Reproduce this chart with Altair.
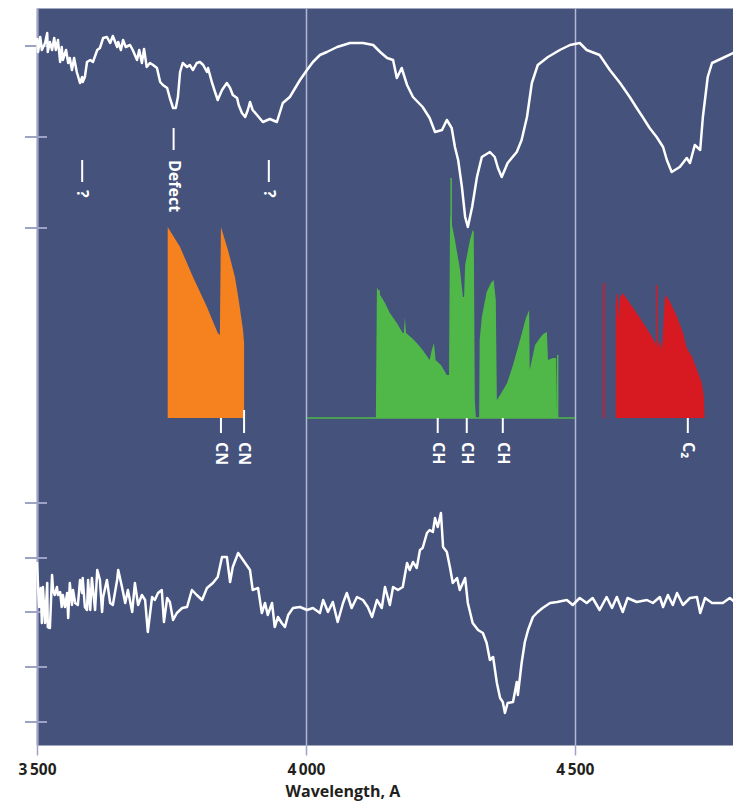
import altair as alt
import pandas as pd

# ---------------- data ----------------
# upper spectrum (wavelength in A, relative flux in arbitrary units)
top_wl = [3500, 3502, 3506, 3509, 3515, 3519, 3520, 3524, 3528, 3532, 3535, 3539, 3543, 3546, 3548,
          3554, 3558, 3561, 3565, 3569, 3574, 3580, 3584, 3585, 3589, 3593, 3599, 3604, 3612, 3617,
          3623, 3630, 3636, 3641, 3649, 3651, 3656, 3660, 3665, 3673, 3678, 3686, 3690, 3695, 3699,
          3704, 3710, 3716, 3723, 3729, 3734, 3742, 3747, 3753, 3758, 3762, 3766, 3771, 3779, 3784,
          3790, 3797, 3803, 3809, 3816, 3818, 3825, 3831, 3836, 3844, 3853, 3859, 3864, 3872, 3875,
          3881, 3887, 3892, 3896, 3901, 3909, 3920, 3933, 3946, 3957, 3970, 3989, 4002, 4013, 4026,
          4039, 4058, 4082, 4106, 4125, 4138, 4151, 4162, 4169, 4178, 4188, 4199, 4217, 4230, 4240,
          4253, 4262, 4271, 4277, 4283, 4290, 4296, 4301, 4309, 4318, 4327, 4342, 4351, 4357, 4364,
          4375, 4392, 4401, 4411, 4420, 4431, 4450, 4472, 4491, 4509, 4522, 4546, 4565, 4584, 4602,
          4615, 4626, 4639, 4652, 4664, 4671, 4680, 4695, 4708, 4714, 4723, 4733, 4738, 4747, 4755,
          4775, 4794, 4809]
top_flux = [707, 693, 708, 695, 702, 712, 693, 703, 695, 707, 695, 705, 683, 698, 685,
            695, 682, 687, 675, 687, 673, 662, 668, 663, 668, 683, 685, 683, 695, 697,
            707, 708, 702, 709, 698, 703, 695, 705, 698, 700, 695, 685, 695, 682, 696,
            678, 682, 680, 677, 663, 660, 657, 647, 637, 637, 648, 673, 682, 678, 680,
            675, 682, 683, 680, 673, 677, 663, 653, 645, 655, 662, 657, 650, 647, 640,
            632, 628, 635, 643, 635, 630, 623, 626, 623, 642, 648, 665, 675, 683, 690,
            693, 698, 702, 702, 700, 693, 687, 685, 667, 677, 660, 648, 638, 627, 613,
            615, 625, 617, 598, 585, 558, 528, 518, 538, 568, 588, 593, 588, 577, 568,
            582, 593, 605, 628, 662, 680, 688, 695, 700, 702, 695, 690, 675, 662, 648,
            637, 628, 617, 608, 598, 585, 573, 578, 587, 582, 600, 595, 628, 668, 682,
            687, 692, 695]

# lower spectrum
bot_wl = [3500, 3502, 3504, 3507, 3509, 3511, 3515, 3519, 3520, 3524, 3528, 3530, 3533, 3537, 3539,
          3543, 3546, 3548, 3552, 3556, 3558, 3561, 3565, 3567, 3571, 3576, 3580, 3584, 3585, 3589,
          3593, 3595, 3599, 3602, 3608, 3612, 3617, 3621, 3623, 3630, 3636, 3641, 3649, 3651, 3658,
          3664, 3669, 3677, 3682, 3688, 3695, 3701, 3706, 3714, 3719, 3725, 3732, 3736, 3742, 3747,
          3753, 3760, 3770, 3779, 3788, 3797, 3807, 3816, 3827, 3836, 3844, 3853, 3859, 3864, 3874,
          3887, 3896, 3901, 3911, 3918, 3924, 3929, 3937, 3942, 3948, 3955, 3961, 3967, 3976, 3989,
          4002, 4013, 4026, 4032, 4041, 4050, 4059, 4069, 4076, 4085, 4095, 4106, 4115, 4123, 4132,
          4141, 4147, 4156, 4162, 4171, 4180, 4188, 4193, 4199, 4206, 4212, 4217, 4225, 4230, 4236,
          4240, 4245, 4251, 4255, 4262, 4268, 4273, 4281, 4286, 4296, 4301, 4310, 4320, 4329, 4336,
          4342, 4348, 4355, 4361, 4366, 4370, 4375, 4385, 4392, 4394, 4401, 4407, 4413, 4422, 4431,
          4440, 4454, 4467, 4485, 4496, 4509, 4522, 4533, 4546, 4559, 4569, 4578, 4589, 4598, 4615,
          4634, 4645, 4658, 4664, 4673, 4682, 4690, 4701, 4714, 4727, 4733, 4742, 4755, 4775, 4788,
          4797, 4803, 4809]
bot_flux = [183, 158, 138, 157, 122, 158, 122, 162, 118, 117, 170, 155, 150, 158, 150,
            153, 138, 150, 138, 152, 127, 162, 140, 155, 142, 140, 165, 152, 167, 138,
            135, 165, 135, 167, 135, 175, 165, 133, 148, 165, 142, 140, 165, 175, 158,
            142, 155, 133, 162, 140, 150, 145, 113, 148, 145, 152, 155, 123, 147, 143,
            125, 132, 137, 138, 155, 150, 145, 157, 162, 168, 188, 188, 163, 178, 192,
            182, 175, 155, 157, 132, 142, 130, 142, 118, 128, 122, 118, 130, 137, 138,
            135, 137, 132, 145, 133, 143, 123, 142, 152, 137, 148, 145, 138, 128, 145,
            137, 158, 140, 158, 155, 158, 182, 175, 183, 177, 195, 197, 212, 215, 213,
            227, 218, 232, 198, 193, 177, 162, 167, 155, 167, 142, 122, 115, 112, 102,
            85, 88, 62, 47, 43, 32, 42, 43, 63, 50, 82, 103, 115, 128, 133,
            137, 142, 143, 145, 140, 147, 142, 147, 135, 148, 137, 148, 133, 147, 143,
            145, 142, 148, 138, 150, 140, 152, 140, 147, 148, 132, 147, 142, 142, 147,
            143, 152, 145]

# molecular band models (top of filled band), common baseline
band_base = 327
cn_wl = [3743, 3766, 3790, 3816, 3836, 3840, 3842, 3855, 3868, 3875, 3883, 3885]
cn_top = [518, 498, 468, 438, 412, 410, 518, 495, 468, 445, 415, 402]

ch_wl = [4130, 4132, 4138, 4147, 4156, 4169, 4180, 4182, 4184, 4186, 4197, 4206, 4217, 4230, 4234,
         4238, 4241, 4251, 4262, 4266, 4268, 4277, 4286, 4292, 4294, 4296, 4305, 4310, 4312, 4314,
         4316, 4321, 4322, 4323, 4327, 4336, 4344, 4349, 4353, 4355, 4361, 4374, 4385, 4398, 4409,
         4415, 4416, 4426, 4435, 4441, 4448, 4450, 4459, 4465, 4467]
ch_top = [327, 458, 450, 442, 432, 422, 412, 412, 428, 412, 407, 402, 395, 385, 395,
          402, 385, 380, 370, 370, 530, 505, 477, 448, 448, 480, 505, 515, 513, 345,
          327, 327, 327, 405, 428, 453, 462, 465, 445, 345, 350, 362, 380, 405, 427,
          435, 375, 400, 407, 411, 413, 385, 387, 387, 327]
ch_span = [4002, 4500]

c2_wl = [4576, 4578, 4580, 4582, 4584, 4589, 4602, 4621, 4639, 4654, 4658, 4662, 4667, 4669, 4677,
         4690, 4701, 4708, 4718, 4727, 4736, 4740, 4741]
c2_top = [440, 450, 452, 425, 447, 452, 442, 427, 412, 398, 405, 395, 445, 450, 443,
          428, 412, 397, 388, 375, 362, 348, 327]

# isolated strong lines in the band models
spike_wl = [4136, 4141, 4270, 4468, 4554, 4652]
spike_top = [455, 446, 567, 390, 462, 460]
spike_band = ["CH", "CH", "CH", "CH", "C2", "C2"]

# identifications
ident_text = ["?", "Defect", "?", "CN", "CN", "CH", "CH", "CH", "C\u2082"]
ident_wl = [3584, 3754, 3931, 3842, 3885, 4245, 4299, 4366, 4710]
ident_tick_top = [585, 617, 585, 327, 335, 327, 327, 327, 327]
ident_tick_bottom = [563, 595, 563, 312, 312, 312, 312, 312, 312]
ident_text_y = [555, 585, 555, 303, 303, 303, 303, 303, 303]

# axes
x_ticks = [3500, 4000, 4500]
x_tick_labels = ["3\u2009500", "4\u2009000", "4\u2009500"]
y_ticks = [699, 608, 517, 242, 187, 133, 78, 23]

# ---------------- styling ----------------
BG = "#44527c"
FONT = "Open Sans"
AXIS_C = "#9ea3c6"
GRID_C = "#b2b7d2"
ORANGE = "#f5821f"
GREEN = "#50b848"
RED = "#d71a21"

label_expr = ""
for v, t in zip(x_ticks, x_tick_labels):
    label_expr += f"datum.value == {v} ? '{t}' : "
label_expr += "''"

xscale = alt.Scale(domain=[3500, 4794], nice=False, zero=False)
yscale = alt.Scale(domain=[0, 737], nice=False, zero=False)

x_axis = alt.Axis(values=x_ticks, grid=True, gridColor=GRID_C, gridWidth=1.5,
                  tickColor=AXIS_C, tickSize=10, tickWidth=1.5, domain=False,
                  labelExpr=label_expr, labelFont=FONT, labelFontSize=15.5, labelFontWeight="bold",
                  labelColor="#231f20", labelPadding=19, labelBaseline="alphabetic", labelFlush=False,
                  title="Wavelength, A", titleFont=FONT, titleFontSize=16, titleFontWeight="bold",
                  titleColor="#231f20", titleAnchor="start", titleAlign="left", titleX=248, titleY=51,
                  titleBaseline="alphabetic")
y_axis = alt.Axis(labels=False, ticks=False, grid=False, domain=True, domainColor=AXIS_C,
                  domainWidth=2, title="")

X = alt.X("wl:Q", scale=xscale, axis=x_axis)
Y = alt.Y("v:Q", scale=yscale, axis=y_axis)

top_df = pd.DataFrame({"wl": top_wl, "v": top_flux})
bot_df = pd.DataFrame({"wl": bot_wl, "v": bot_flux})
cn_df = pd.DataFrame({"wl": cn_wl, "v": cn_top, "base": band_base})
ch_df = pd.DataFrame({"wl": ch_wl, "v": ch_top, "base": band_base})
c2_df = pd.DataFrame({"wl": c2_wl, "v": c2_top, "base": band_base})
spike_df = pd.DataFrame({"wl": spike_wl, "v": spike_top, "base": band_base, "band": spike_band})
span_df = pd.DataFrame({"wl": [ch_span[0]], "wl2": [ch_span[1]], "v": [band_base]})
ident_df = pd.DataFrame({"wl": ident_wl, "text": ident_text, "v": ident_tick_top,
                         "v2": ident_tick_bottom, "vt": ident_text_y})
ytick_df = pd.DataFrame({"v": y_ticks})

yticks = alt.Chart(ytick_df).mark_rule(color=AXIS_C, strokeWidth=2).encode(
    y=Y, x=alt.value(-12), x2=alt.value(10))

ch_base = alt.Chart(span_df).mark_rule(color=GREEN, strokeWidth=1.5).encode(
    x=X, x2="wl2:Q", y=Y)

def band(df, color):
    return alt.Chart(df).mark_area(color=color, opacity=1, interpolate="linear").encode(
        x=X, y=Y, y2="base:Q")

cn = band(cn_df, ORANGE)
ch = band(ch_df, GREEN)
c2 = band(c2_df, RED)

spikes = alt.Chart(spike_df).mark_rule(strokeWidth=1.5).encode(
    x=X, y=Y, y2="base:Q",
    color=alt.Color("band:N", scale=alt.Scale(domain=["CH", "C2"], range=[GREEN, RED]), legend=None))

top_line = alt.Chart(top_df).mark_line(color="white", strokeWidth=2.5, strokeJoin="round").encode(x=X, y=Y)
bot_line = alt.Chart(bot_df).mark_line(color="white", strokeWidth=2.5, strokeJoin="round").encode(x=X, y=Y)

ident_ticks = alt.Chart(ident_df).mark_rule(color="white", strokeWidth=2).encode(
    x=X, y=Y, y2="v2:Q")
ident_labels = alt.Chart(ident_df).mark_text(
    angle=90, align="left", baseline="middle", font=FONT, fontSize=16, fontWeight="bold",
    color="white").encode(x=X, y=alt.Y("vt:Q", scale=yscale, axis=y_axis), text="text:N")

chart = alt.layer(
    yticks, ch_base, cn, ch, c2, spikes, top_line, bot_line, ident_ticks, ident_labels
).properties(
    width=696, height=737,
    autosize=alt.AutoSizeParams(type="none"),
    padding={"left": 29, "top": 0, "right": 0, "bottom": 57},
    background="white",
).configure_view(fill=BG, stroke="transparent")

chart.save("out.html", embed_options={"renderer": "svg", "actions": False})
